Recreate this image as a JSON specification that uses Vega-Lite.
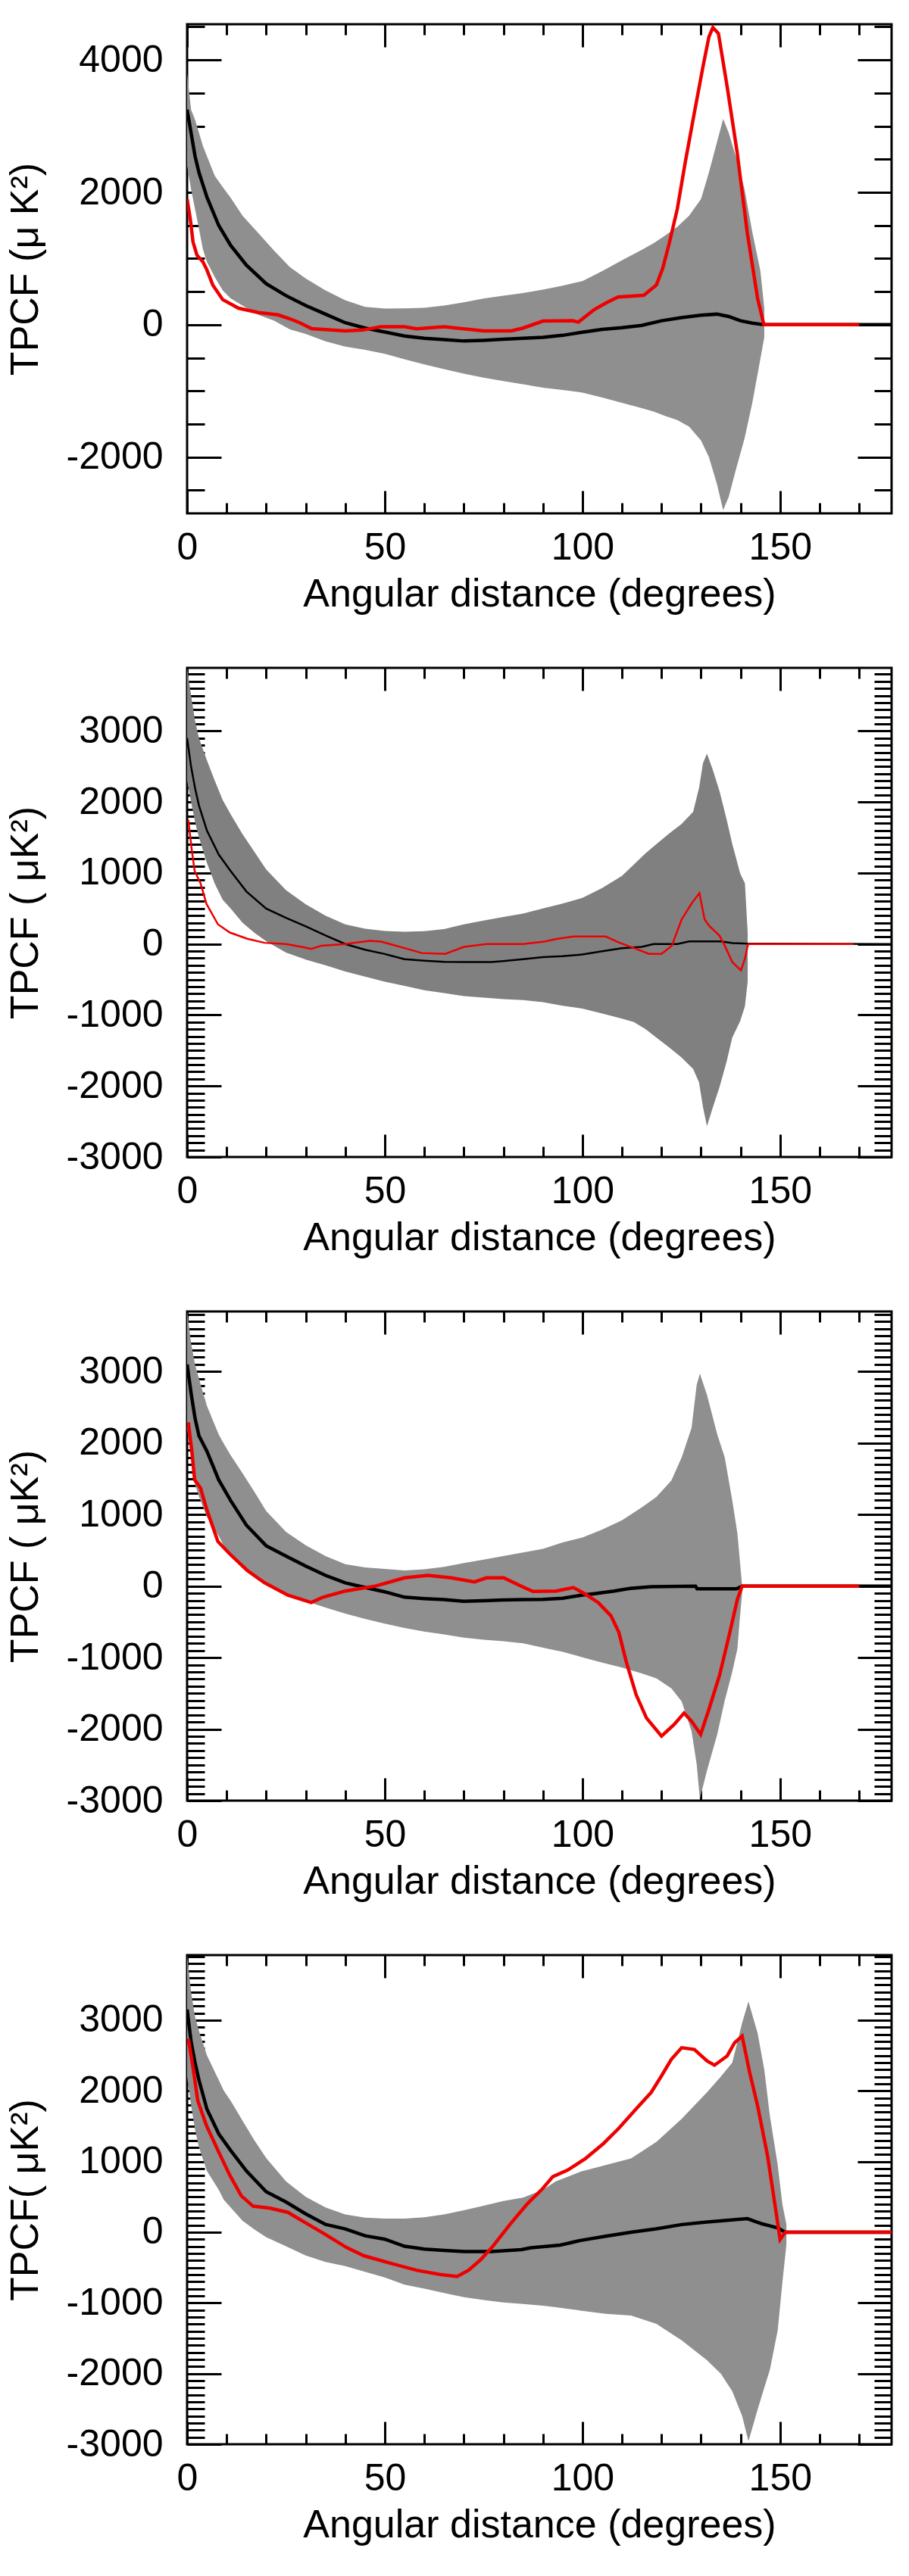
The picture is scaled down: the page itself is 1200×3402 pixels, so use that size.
{
  "$schema": "https://vega.github.io/schema/vega-lite/v6.json",
  "background": "white",
  "padding": {"top": 29, "left": 5, "right": 0, "bottom": 0},
  "spacing": 67,
  "datasets": {
    "b1": [
      {"d": 0, "lo": 2400, "hi": 3800}, {"d": 1, "lo": 2050, "hi": 3250}, {"d": 2, "lo": 1750, "hi": 3100},
      {"d": 3, "lo": 1450, "hi": 2900}, {"d": 4, "lo": 1140, "hi": 2700}, {"d": 5, "lo": 950, "hi": 2550},
      {"d": 7, "lo": 720, "hi": 2250}, {"d": 9, "lo": 520, "hi": 2080}, {"d": 11, "lo": 400, "hi": 1920},
      {"d": 14, "lo": 290, "hi": 1650}, {"d": 18, "lo": 150, "hi": 1385}, {"d": 22, "lo": 60, "hi": 1120},
      {"d": 26, "lo": -70, "hi": 870}, {"d": 30, "lo": -140, "hi": 700}, {"d": 35, "lo": -250, "hi": 520},
      {"d": 40, "lo": -330, "hi": 370}, {"d": 45, "lo": -380, "hi": 270}, {"d": 50, "lo": -440, "hi": 245},
      {"d": 55, "lo": -523, "hi": 246}, {"d": 60, "lo": -600, "hi": 255}, {"d": 65, "lo": -670, "hi": 290},
      {"d": 70, "lo": -738, "hi": 338}, {"d": 75, "lo": -800, "hi": 395}, {"d": 80, "lo": -850, "hi": 440},
      {"d": 85, "lo": -900, "hi": 480}, {"d": 90, "lo": -950, "hi": 530}, {"d": 95, "lo": -985, "hi": 590},
      {"d": 100, "lo": -1025, "hi": 660}, {"d": 105, "lo": -1100, "hi": 810}, {"d": 110, "lo": -1180, "hi": 975},
      {"d": 115, "lo": -1260, "hi": 1130}, {"d": 118, "lo": -1310, "hi": 1230}, {"d": 121, "lo": -1380, "hi": 1350},
      {"d": 124, "lo": -1440, "hi": 1480}, {"d": 127, "lo": -1540, "hi": 1650}, {"d": 130, "lo": -1750, "hi": 1900},
      {"d": 132, "lo": -2000, "hi": 2300}, {"d": 134, "lo": -2400, "hi": 2750}, {"d": 135.6, "lo": -2800, "hi": 3110},
      {"d": 137, "lo": -2600, "hi": 2900}, {"d": 139, "lo": -2150, "hi": 2500}, {"d": 141, "lo": -1720, "hi": 2050},
      {"d": 143, "lo": -1170, "hi": 1390}, {"d": 145, "lo": -520, "hi": 820}, {"d": 146, "lo": -190, "hi": 250}
    ],
    "m1": [
      {"d": 0, "v": 3250}, {"d": 1, "v": 2900}, {"d": 2, "v": 2550}, {"d": 3, "v": 2300}, {"d": 5, "v": 1930},
      {"d": 8, "v": 1500}, {"d": 11, "v": 1200}, {"d": 15, "v": 900}, {"d": 20, "v": 620}, {"d": 25, "v": 440},
      {"d": 30, "v": 290}, {"d": 35, "v": 160}, {"d": 40, "v": 30}, {"d": 45, "v": -50}, {"d": 50, "v": -110},
      {"d": 55, "v": -170}, {"d": 60, "v": -205}, {"d": 65, "v": -225}, {"d": 70, "v": -246}, {"d": 75, "v": -235},
      {"d": 80, "v": -220}, {"d": 85, "v": -205}, {"d": 90, "v": -190}, {"d": 95, "v": -160}, {"d": 100, "v": -113},
      {"d": 105, "v": -70}, {"d": 110, "v": -45}, {"d": 115, "v": -10}, {"d": 120, "v": 60}, {"d": 125, "v": 108},
      {"d": 130, "v": 145}, {"d": 134, "v": 160}, {"d": 137, "v": 125}, {"d": 140, "v": 60}, {"d": 143, "v": 25},
      {"d": 146, "v": 0}, {"d": 178.2, "v": 0}
    ],
    "r1": [
      {"d": 0, "v": 1900}, {"d": 0.8, "v": 1600}, {"d": 1.5, "v": 1250}, {"d": 2.5, "v": 1050}, {"d": 4, "v": 950},
      {"d": 5, "v": 830}, {"d": 6.5, "v": 600}, {"d": 9, "v": 380}, {"d": 13, "v": 250}, {"d": 18, "v": 185},
      {"d": 23, "v": 150}, {"d": 26, "v": 90}, {"d": 28.5, "v": 30}, {"d": 31.5, "v": -60}, {"d": 40, "v": -92},
      {"d": 44.5, "v": -80}, {"d": 49, "v": -30}, {"d": 55, "v": -30}, {"d": 58, "v": -62}, {"d": 65, "v": -30},
      {"d": 70, "v": -62}, {"d": 75, "v": -92}, {"d": 82, "v": -92}, {"d": 85, "v": -50}, {"d": 90, "v": 55},
      {"d": 97.5, "v": 60}, {"d": 99, "v": 40}, {"d": 103, "v": 230}, {"d": 106, "v": 330}, {"d": 109, "v": 420},
      {"d": 115.5, "v": 445}, {"d": 118.7, "v": 600}, {"d": 120.3, "v": 850}, {"d": 122, "v": 1240}, {"d": 124, "v": 1750},
      {"d": 126, "v": 2450}, {"d": 128.3, "v": 3200}, {"d": 130.5, "v": 3900}, {"d": 132, "v": 4350}, {"d": 133, "v": 4490},
      {"d": 134.4, "v": 4400}, {"d": 136.6, "v": 3600}, {"d": 139.1, "v": 2620}, {"d": 141.7, "v": 1390}, {"d": 144.3, "v": 400},
      {"d": 145.9, "v": 0}, {"d": 170, "v": 0}
    ],
    "b2": [
      {"d": 0, "lo": 2300, "hi": 3890}, {"d": 1, "lo": 2000, "hi": 3500}, {"d": 2, "lo": 1722, "hi": 3150},
      {"d": 3, "lo": 1500, "hi": 2900}, {"d": 5, "lo": 1144, "hi": 2589}, {"d": 7, "lo": 850, "hi": 2300},
      {"d": 9, "lo": 624, "hi": 2030}, {"d": 11, "lo": 500, "hi": 1830}, {"d": 14, "lo": 300, "hi": 1550},
      {"d": 17, "lo": 160, "hi": 1300}, {"d": 20, "lo": 40, "hi": 1050}, {"d": 25, "lo": -120, "hi": 760},
      {"d": 30, "lo": -220, "hi": 560}, {"d": 35, "lo": -300, "hi": 400}, {"d": 40, "lo": -387, "hi": 277},
      {"d": 45, "lo": -460, "hi": 215}, {"d": 50, "lo": -530, "hi": 185}, {"d": 55, "lo": -590, "hi": 173},
      {"d": 60, "lo": -650, "hi": 180}, {"d": 65, "lo": -690, "hi": 210}, {"d": 70, "lo": -734, "hi": 277},
      {"d": 75, "lo": -755, "hi": 330}, {"d": 80, "lo": -775, "hi": 380}, {"d": 85, "lo": -790, "hi": 430},
      {"d": 90, "lo": -820, "hi": 500}, {"d": 95, "lo": -870, "hi": 570}, {"d": 100, "lo": -910, "hi": 650},
      {"d": 105, "lo": -980, "hi": 790}, {"d": 110, "lo": -1050, "hi": 960}, {"d": 113, "lo": -1100, "hi": 1120},
      {"d": 116, "lo": -1200, "hi": 1280}, {"d": 119, "lo": -1330, "hi": 1420}, {"d": 122, "lo": -1460, "hi": 1560},
      {"d": 125, "lo": -1595, "hi": 1687}, {"d": 128, "lo": -1760, "hi": 1860}, {"d": 129.5, "lo": -1950, "hi": 2200},
      {"d": 130.5, "lo": -2300, "hi": 2550}, {"d": 131.5, "lo": -2566, "hi": 2681}, {"d": 133, "lo": -2300, "hi": 2450},
      {"d": 134.7, "lo": -2011, "hi": 2150}, {"d": 136.5, "lo": -1650, "hi": 1750}, {"d": 137.9, "lo": -1318, "hi": 1410},
      {"d": 139.9, "lo": -1086, "hi": 994}, {"d": 141.1, "lo": -878, "hi": 855}, {"d": 141.8, "lo": -532, "hi": 162}
    ],
    "m2": [
      {"d": 0, "v": 2900}, {"d": 1, "v": 2500}, {"d": 2, "v": 2200}, {"d": 3, "v": 1950}, {"d": 5, "v": 1600},
      {"d": 8, "v": 1260}, {"d": 11, "v": 1029}, {"d": 15, "v": 740}, {"d": 20, "v": 500}, {"d": 25, "v": 370},
      {"d": 30, "v": 250}, {"d": 35, "v": 120}, {"d": 40, "v": 0}, {"d": 45, "v": -80}, {"d": 50, "v": -140},
      {"d": 55, "v": -214}, {"d": 60, "v": -235}, {"d": 65, "v": -250}, {"d": 70, "v": -254}, {"d": 77, "v": -254},
      {"d": 80, "v": -240}, {"d": 85, "v": -214}, {"d": 90, "v": -185}, {"d": 95, "v": -170}, {"d": 100, "v": -148},
      {"d": 105, "v": -102}, {"d": 110, "v": -60}, {"d": 115, "v": -40}, {"d": 118, "v": 0}, {"d": 124, "v": 0},
      {"d": 127, "v": 37}, {"d": 135, "v": 37}, {"d": 138, "v": 14}, {"d": 142, "v": 5}, {"d": 178.2, "v": 0}
    ],
    "r2": [
      {"d": 0.3, "v": 1751}, {"d": 1.2, "v": 1318}, {"d": 1.9, "v": 1029}, {"d": 3.4, "v": 855}, {"d": 4.9, "v": 566},
      {"d": 7.8, "v": 277}, {"d": 10.8, "v": 162}, {"d": 15.2, "v": 75}, {"d": 19.6, "v": 17}, {"d": 25, "v": 0},
      {"d": 29, "v": -40}, {"d": 31.4, "v": -69}, {"d": 34, "v": -23}, {"d": 40, "v": 0}, {"d": 46.2, "v": 46},
      {"d": 49, "v": 35}, {"d": 55, "v": -58}, {"d": 59.4, "v": -127}, {"d": 65.3, "v": -139}, {"d": 70, "v": -40},
      {"d": 75.7, "v": 0}, {"d": 85, "v": 0}, {"d": 90.4, "v": 35}, {"d": 93.2, "v": 69}, {"d": 97.7, "v": 106},
      {"d": 105.9, "v": 106}, {"d": 109.2, "v": 23}, {"d": 113.6, "v": -69}, {"d": 116.8, "v": -139}, {"d": 120, "v": -139},
      {"d": 122.6, "v": -23}, {"d": 125.1, "v": 347}, {"d": 127.7, "v": 578}, {"d": 129.6, "v": 717}, {"d": 130.9, "v": 347},
      {"d": 132.1, "v": 254}, {"d": 134.7, "v": 116}, {"d": 136, "v": -23}, {"d": 137.9, "v": -254}, {"d": 140.1, "v": -370},
      {"d": 141.1, "v": -208}, {"d": 141.8, "v": -23}, {"d": 142, "v": 0}, {"d": 168.6, "v": 0}
    ],
    "b3": [
      {"d": 0, "lo": 2200, "hi": 3840}, {"d": 1, "lo": 1800, "hi": 3400}, {"d": 2, "lo": 1428, "hi": 3100},
      {"d": 3, "lo": 1250, "hi": 2900}, {"d": 5, "lo": 967, "hi": 2522}, {"d": 8, "lo": 700, "hi": 2119},
      {"d": 9.3, "lo": 564, "hi": 1990}, {"d": 11, "lo": 460, "hi": 1830}, {"d": 14, "lo": 276, "hi": 1580},
      {"d": 17, "lo": 150, "hi": 1320}, {"d": 20, "lo": 40, "hi": 1050}, {"d": 25, "lo": -110, "hi": 760},
      {"d": 30, "lo": -210, "hi": 570}, {"d": 35, "lo": -300, "hi": 420}, {"d": 40, "lo": -386, "hi": 305},
      {"d": 45, "lo": -460, "hi": 260}, {"d": 50, "lo": -525, "hi": 240}, {"d": 55, "lo": -587, "hi": 219},
      {"d": 60, "lo": -635, "hi": 235}, {"d": 65, "lo": -675, "hi": 270}, {"d": 70, "lo": -720, "hi": 322},
      {"d": 75, "lo": -750, "hi": 370}, {"d": 80, "lo": -770, "hi": 420}, {"d": 85, "lo": -800, "hi": 470},
      {"d": 90, "lo": -860, "hi": 520}, {"d": 95, "lo": -920, "hi": 610}, {"d": 100, "lo": -995, "hi": 680},
      {"d": 105, "lo": -1070, "hi": 790}, {"d": 110, "lo": -1140, "hi": 920}, {"d": 115, "lo": -1220, "hi": 1100},
      {"d": 118.7, "lo": -1291, "hi": 1245}, {"d": 122.5, "lo": -1429, "hi": 1475}, {"d": 125.1, "lo": -1613, "hi": 1798},
      {"d": 127.6, "lo": -2028, "hi": 2213}, {"d": 128.9, "lo": -2489, "hi": 2812}, {"d": 129.7, "lo": -2973, "hi": 2973},
      {"d": 131.5, "lo": -2581, "hi": 2674}, {"d": 134.1, "lo": -2074, "hi": 2121}, {"d": 136, "lo": -1600, "hi": 1798},
      {"d": 137.9, "lo": -1199, "hi": 1199}, {"d": 139.2, "lo": -876, "hi": 738}, {"d": 139.8, "lo": -461, "hi": 369},
      {"d": 140.4, "lo": -92, "hi": 0}
    ],
    "m3": [
      {"d": 0, "v": 3100}, {"d": 1, "v": 2700}, {"d": 2, "v": 2349}, {"d": 3, "v": 2100}, {"d": 5, "v": 1888},
      {"d": 8, "v": 1485}, {"d": 11, "v": 1197}, {"d": 15, "v": 852}, {"d": 20, "v": 564}, {"d": 25, "v": 420},
      {"d": 30, "v": 280}, {"d": 35, "v": 150}, {"d": 40, "v": 46}, {"d": 45, "v": -20}, {"d": 50, "v": -80},
      {"d": 55, "v": -155}, {"d": 60, "v": -175}, {"d": 65, "v": -190}, {"d": 70, "v": -213}, {"d": 75, "v": -205},
      {"d": 80, "v": -195}, {"d": 85, "v": -190}, {"d": 90, "v": -185}, {"d": 95, "v": -171}, {"d": 100, "v": -125},
      {"d": 103, "v": -106}, {"d": 108, "v": -69}, {"d": 112, "v": -32}, {"d": 117.4, "v": -9}, {"d": 128.6, "v": 0},
      {"d": 129, "v": -37}, {"d": 139, "v": -37}, {"d": 140.4, "v": 0}, {"d": 178.2, "v": 0}
    ],
    "r3": [
      {"d": 0.3, "v": 2291}, {"d": 1.2, "v": 1888}, {"d": 1.9, "v": 1485}, {"d": 3.4, "v": 1370}, {"d": 4.9, "v": 1082},
      {"d": 7.8, "v": 622}, {"d": 10.8, "v": 449}, {"d": 15.2, "v": 219}, {"d": 19.6, "v": 46}, {"d": 25.5, "v": -127},
      {"d": 31.4, "v": -230}, {"d": 34.4, "v": -155}, {"d": 40, "v": -69}, {"d": 47.6, "v": 0}, {"d": 55, "v": 115},
      {"d": 60.9, "v": 150}, {"d": 66.8, "v": 115}, {"d": 72.7, "v": 58}, {"d": 75.7, "v": 115}, {"d": 80.1, "v": 115},
      {"d": 84.5, "v": 0}, {"d": 87.5, "v": -75}, {"d": 93.4, "v": -70}, {"d": 97.7, "v": -20}, {"d": 100.8, "v": -115},
      {"d": 104, "v": -230}, {"d": 107.2, "v": -415}, {"d": 109.2, "v": -645}, {"d": 111.1, "v": -1060}, {"d": 113.6, "v": -1521},
      {"d": 116.2, "v": -1844}, {"d": 120, "v": -2098}, {"d": 123.2, "v": -1936}, {"d": 125.7, "v": -1775}, {"d": 127.6, "v": -1890},
      {"d": 129.9, "v": -2074}, {"d": 132.1, "v": -1706}, {"d": 134.7, "v": -1245}, {"d": 137.3, "v": -645}, {"d": 139.2, "v": -184},
      {"d": 140.4, "v": 0}, {"d": 170, "v": 0}
    ],
    "b4": [
      {"d": 0, "lo": 2200, "hi": 3920}, {"d": 1, "lo": 1800, "hi": 3400}, {"d": 2, "lo": 1450, "hi": 3050},
      {"d": 3, "lo": 1200, "hi": 2850}, {"d": 5, "lo": 866, "hi": 2503}, {"d": 8, "lo": 600, "hi": 2152},
      {"d": 9.3, "lo": 456, "hi": 2000}, {"d": 11, "lo": 350, "hi": 1860}, {"d": 14, "lo": 164, "hi": 1580},
      {"d": 17, "lo": 40, "hi": 1300}, {"d": 20, "lo": -70, "hi": 1050}, {"d": 25, "lo": -200, "hi": 720},
      {"d": 30, "lo": -330, "hi": 500}, {"d": 35, "lo": -420, "hi": 350}, {"d": 40, "lo": -480, "hi": 251},
      {"d": 45, "lo": -560, "hi": 205}, {"d": 50, "lo": -640, "hi": 193}, {"d": 55, "lo": -743, "hi": 193},
      {"d": 60, "lo": -800, "hi": 210}, {"d": 65, "lo": -860, "hi": 250}, {"d": 70, "lo": -918, "hi": 310},
      {"d": 75, "lo": -960, "hi": 375}, {"d": 80, "lo": -995, "hi": 440}, {"d": 85, "lo": -1015, "hi": 490},
      {"d": 90, "lo": -1040, "hi": 600}, {"d": 93.2, "lo": -1062, "hi": 716}, {"d": 99.5, "lo": -1108, "hi": 856},
      {"d": 105.9, "lo": -1155, "hi": 949}, {"d": 112.3, "lo": -1179, "hi": 1043}, {"d": 118.7, "lo": -1296, "hi": 1277},
      {"d": 125.1, "lo": -1529, "hi": 1604}, {"d": 131.5, "lo": -1810, "hi": 1978}, {"d": 135, "lo": -2000, "hi": 2200},
      {"d": 137.9, "lo": -2250, "hi": 2399}, {"d": 140.4, "lo": -2600, "hi": 2961}, {"d": 142, "lo": -2956, "hi": 3265},
      {"d": 144.3, "lo": -2512, "hi": 2820}, {"d": 146, "lo": -2200, "hi": 2300}, {"d": 147.4, "lo": -1950, "hi": 1651},
      {"d": 149.4, "lo": -1389, "hi": 949}, {"d": 150.6, "lo": -700, "hi": 388}, {"d": 151.6, "lo": -173, "hi": 108}
    ],
    "m4": [
      {"d": 0, "v": 3150}, {"d": 1, "v": 2700}, {"d": 2, "v": 2400}, {"d": 3, "v": 2152}, {"d": 5, "v": 1743},
      {"d": 8, "v": 1392}, {"d": 11, "v": 1158}, {"d": 15, "v": 866}, {"d": 20, "v": 573}, {"d": 25, "v": 427},
      {"d": 30, "v": 260}, {"d": 35, "v": 110}, {"d": 40, "v": 47}, {"d": 45, "v": -50}, {"d": 50, "v": -99},
      {"d": 55, "v": -199}, {"d": 60, "v": -240}, {"d": 65, "v": -257}, {"d": 70, "v": -275}, {"d": 77, "v": -275},
      {"d": 84.5, "v": -246}, {"d": 87, "v": -220}, {"d": 94.4, "v": -182}, {"d": 99.5, "v": -117}, {"d": 105.9, "v": -56},
      {"d": 112.3, "v": 0}, {"d": 118.7, "v": 47}, {"d": 125.1, "v": 108}, {"d": 131.5, "v": 145}, {"d": 141.7, "v": 192},
      {"d": 145.5, "v": 117}, {"d": 149.4, "v": 61}, {"d": 151.3, "v": 0}, {"d": 178.2, "v": 0}
    ],
    "r4": [
      {"d": 0.3, "v": 2737}, {"d": 1.5, "v": 2328}, {"d": 2.7, "v": 1860}, {"d": 4.9, "v": 1509}, {"d": 7.8, "v": 1158},
      {"d": 10.8, "v": 807}, {"d": 13.7, "v": 515}, {"d": 16.7, "v": 368}, {"d": 21, "v": 339}, {"d": 25.5, "v": 281},
      {"d": 29.9, "v": 135}, {"d": 34.4, "v": -12}, {"d": 40.3, "v": -216}, {"d": 44.7, "v": -333}, {"d": 52.1, "v": -450},
      {"d": 58, "v": -538}, {"d": 63.9, "v": -597}, {"d": 68.3, "v": -626}, {"d": 71.2, "v": -538}, {"d": 74.2, "v": -392},
      {"d": 77.1, "v": -216}, {"d": 81.6, "v": 105}, {"d": 86, "v": 398}, {"d": 90, "v": 620}, {"d": 92.5, "v": 786},
      {"d": 96.3, "v": 879}, {"d": 100.8, "v": 1043}, {"d": 105.3, "v": 1253}, {"d": 109.1, "v": 1464}, {"d": 113.6, "v": 1745},
      {"d": 117.4, "v": 1978}, {"d": 120, "v": 2212}, {"d": 122.5, "v": 2446}, {"d": 125.1, "v": 2610}, {"d": 128.3, "v": 2586},
      {"d": 131.5, "v": 2423}, {"d": 133.4, "v": 2362}, {"d": 136.6, "v": 2493}, {"d": 138.5, "v": 2680}, {"d": 140.4, "v": 2773},
      {"d": 142.3, "v": 2259}, {"d": 144.3, "v": 1791}, {"d": 146.8, "v": 1090}, {"d": 148.7, "v": 388}, {"d": 150, "v": -103},
      {"d": 151.3, "v": 0}, {"d": 178.2, "v": 0}
    ]
  },
  "vconcat": [
    {
      "width": 930, "height": 646,
      "layer": [
        {
          "data": {"name": "b1"},
          "mark": {"type": "area", "color": "#8f8f8f", "clip": true},
          "encoding": {
            "x": {"field": "d", "type": "quantitative", "scale": {"domain": [0, 178.2], "nice": false, "zero": false},
              "axis": {"orient": "bottom", "values": [0, 10, 20, 30, 40, 50, 60, 70, 80, 90, 100, 110, 120, 130, 140, 150, 160, 170],
                "labelExpr": "datum.value % 50 === 0 ? '' + datum.value : ''",
                "labelFontSize": {"condition": {"test": "datum.value % 50 === 0", "value": 50}, "value": 0},
                "tickSize": {"condition": {"test": "datum.value % 50 === 0", "value": -30}, "value": -14},
                "title": "Angular distance (degrees)"}},
            "y": {"field": "lo", "type": "quantitative", "scale": {"domain": [-2850, 4540], "nice": false, "zero": false},
              "axis": {"orient": "left", "values": [-2500, -2000, -1500, -1000, -500, 0, 500, 1000, 1500, 2000, 2500, 3000, 3500, 4000, 4500],
                "labelExpr": "datum.value % 2000 === 0 ? '' + datum.value : ''",
                "labelFontSize": {"condition": {"test": "datum.value % 2000 === 0", "value": 50}, "value": 0},
                "tickSize": {"condition": {"test": "datum.value % 2000 === 0", "value": -45}, "value": -23},
                "title": "TPCF (μ K²)"}},
            "y2": {"field": "hi"}
          }
        },
        {
          "data": {"name": "m1"},
          "mark": {"type": "line", "color": "black", "strokeWidth": 4.5, "clip": true},
          "encoding": {
            "x": {"field": "d", "type": "quantitative", "scale": {"domain": [0, 178.2], "nice": false, "zero": false},
              "axis": {"orient": "top", "labels": false, "title": null, "values": [0, 10, 20, 30, 40, 50, 60, 70, 80, 90, 100, 110, 120, 130, 140, 150, 160, 170],
                "tickSize": {"condition": {"test": "datum.value % 50 === 0", "value": -30}, "value": -14}}},
            "y": {"field": "v", "type": "quantitative", "scale": {"domain": [-2850, 4540], "nice": false, "zero": false},
              "axis": {"orient": "right", "labels": false, "title": null, "values": [-2500, -2000, -1500, -1000, -500, 0, 500, 1000, 1500, 2000, 2500, 3000, 3500, 4000, 4500],
                "tickSize": {"condition": {"test": "datum.value % 2000 === 0", "value": -45}, "value": -23}}}
          }
        },
        {
          "data": {"name": "r1"},
          "mark": {"type": "line", "color": "#ee0000", "strokeWidth": 4.5, "clip": true},
          "encoding": {
            "x": {"field": "d", "type": "quantitative", "scale": {"domain": [0, 178.2], "nice": false, "zero": false}, "axis": null},
            "y": {"field": "v", "type": "quantitative", "scale": {"domain": [-2850, 4540], "nice": false, "zero": false}, "axis": null}
          }
        }
      ],
      "resolve": {"axis": {"x": "independent", "y": "independent"}}
    },
    {
      "width": 930, "height": 646,
      "layer": [
        {
          "data": {"name": "b2"},
          "mark": {"type": "area", "color": "#808080", "clip": true},
          "encoding": {
            "x": {"field": "d", "type": "quantitative", "scale": {"domain": [0, 178.2], "nice": false, "zero": false},
              "axis": {"orient": "bottom", "values": [0, 10, 20, 30, 40, 50, 60, 70, 80, 90, 100, 110, 120, 130, 140, 150, 160, 170],
                "labelExpr": "datum.value % 50 === 0 ? '' + datum.value : ''",
                "labelFontSize": {"condition": {"test": "datum.value % 50 === 0", "value": 50}, "value": 0},
                "tickSize": {"condition": {"test": "datum.value % 50 === 0", "value": -30}, "value": -14},
                "title": "Angular distance (degrees)"}},
            "y": {"field": "lo", "type": "quantitative", "scale": {"domain": [-3000, 3890], "nice": false, "zero": false},
              "axis": {"orient": "left", "values": [-3000, -2900, -2800, -2700, -2600, -2500, -2400, -2300, -2200, -2100, -2000, -1900, -1800, -1700, -1600, -1500, -1400, -1300, -1200, -1100, -1000, -900, -800, -700, -600, -500, -400, -300, -200, -100, 0, 100, 200, 300, 400, 500, 600, 700, 800, 900, 1000, 1100, 1200, 1300, 1400, 1500, 1600, 1700, 1800, 1900, 2000, 2100, 2200, 2300, 2400, 2500, 2600, 2700, 2800, 2900, 3000, 3100, 3200, 3300, 3400, 3500, 3600, 3700, 3800],
                "labelExpr": "datum.value % 1000 === 0 ? '' + datum.value : ''",
                "labelFontSize": {"condition": {"test": "datum.value % 1000 === 0", "value": 50}, "value": 0},
                "tickSize": {"condition": {"test": "datum.value % 1000 === 0", "value": -45}, "value": -23},
                "title": "TPCF ( μK²)"}},
            "y2": {"field": "hi"}
          }
        },
        {
          "data": {"name": "m2"},
          "mark": {"type": "line", "color": "black", "strokeWidth": 2.5, "clip": true},
          "encoding": {
            "x": {"field": "d", "type": "quantitative", "scale": {"domain": [0, 178.2], "nice": false, "zero": false},
              "axis": {"orient": "top", "labels": false, "title": null, "values": [0, 10, 20, 30, 40, 50, 60, 70, 80, 90, 100, 110, 120, 130, 140, 150, 160, 170],
                "tickSize": {"condition": {"test": "datum.value % 50 === 0", "value": -30}, "value": -14}}},
            "y": {"field": "v", "type": "quantitative", "scale": {"domain": [-3000, 3890], "nice": false, "zero": false},
              "axis": {"orient": "right", "labels": false, "title": null, "values": [-3000, -2900, -2800, -2700, -2600, -2500, -2400, -2300, -2200, -2100, -2000, -1900, -1800, -1700, -1600, -1500, -1400, -1300, -1200, -1100, -1000, -900, -800, -700, -600, -500, -400, -300, -200, -100, 0, 100, 200, 300, 400, 500, 600, 700, 800, 900, 1000, 1100, 1200, 1300, 1400, 1500, 1600, 1700, 1800, 1900, 2000, 2100, 2200, 2300, 2400, 2500, 2600, 2700, 2800, 2900, 3000, 3100, 3200, 3300, 3400, 3500, 3600, 3700, 3800],
                "tickSize": {"condition": {"test": "datum.value % 1000 === 0", "value": -45}, "value": -23}}}
          }
        },
        {
          "data": {"name": "r2"},
          "mark": {"type": "line", "color": "#ee0000", "strokeWidth": 2.5, "clip": true},
          "encoding": {
            "x": {"field": "d", "type": "quantitative", "scale": {"domain": [0, 178.2], "nice": false, "zero": false}, "axis": null},
            "y": {"field": "v", "type": "quantitative", "scale": {"domain": [-3000, 3890], "nice": false, "zero": false}, "axis": null}
          }
        }
      ],
      "resolve": {"axis": {"x": "independent", "y": "independent"}}
    },
    {
      "width": 930, "height": 646,
      "layer": [
        {
          "data": {"name": "b3"},
          "mark": {"type": "area", "color": "#8f8f8f", "clip": true},
          "encoding": {
            "x": {"field": "d", "type": "quantitative", "scale": {"domain": [0, 178.2], "nice": false, "zero": false},
              "axis": {"orient": "bottom", "values": [0, 10, 20, 30, 40, 50, 60, 70, 80, 90, 100, 110, 120, 130, 140, 150, 160, 170],
                "labelExpr": "datum.value % 50 === 0 ? '' + datum.value : ''",
                "labelFontSize": {"condition": {"test": "datum.value % 50 === 0", "value": 50}, "value": 0},
                "tickSize": {"condition": {"test": "datum.value % 50 === 0", "value": -30}, "value": -14},
                "title": "Angular distance (degrees)"}},
            "y": {"field": "lo", "type": "quantitative", "scale": {"domain": [-3000, 3840], "nice": false, "zero": false},
              "axis": {"orient": "left", "values": [-3000, -2900, -2800, -2700, -2600, -2500, -2400, -2300, -2200, -2100, -2000, -1900, -1800, -1700, -1600, -1500, -1400, -1300, -1200, -1100, -1000, -900, -800, -700, -600, -500, -400, -300, -200, -100, 0, 100, 200, 300, 400, 500, 600, 700, 800, 900, 1000, 1100, 1200, 1300, 1400, 1500, 1600, 1700, 1800, 1900, 2000, 2100, 2200, 2300, 2400, 2500, 2600, 2700, 2800, 2900, 3000, 3100, 3200, 3300, 3400, 3500, 3600, 3700, 3800],
                "labelExpr": "datum.value % 1000 === 0 ? '' + datum.value : ''",
                "labelFontSize": {"condition": {"test": "datum.value % 1000 === 0", "value": 50}, "value": 0},
                "tickSize": {"condition": {"test": "datum.value % 1000 === 0", "value": -45}, "value": -23},
                "title": "TPCF ( μK²)"}},
            "y2": {"field": "hi"}
          }
        },
        {
          "data": {"name": "m3"},
          "mark": {"type": "line", "color": "black", "strokeWidth": 4.5, "clip": true},
          "encoding": {
            "x": {"field": "d", "type": "quantitative", "scale": {"domain": [0, 178.2], "nice": false, "zero": false},
              "axis": {"orient": "top", "labels": false, "title": null, "values": [0, 10, 20, 30, 40, 50, 60, 70, 80, 90, 100, 110, 120, 130, 140, 150, 160, 170],
                "tickSize": {"condition": {"test": "datum.value % 50 === 0", "value": -30}, "value": -14}}},
            "y": {"field": "v", "type": "quantitative", "scale": {"domain": [-3000, 3840], "nice": false, "zero": false},
              "axis": {"orient": "right", "labels": false, "title": null, "values": [-3000, -2900, -2800, -2700, -2600, -2500, -2400, -2300, -2200, -2100, -2000, -1900, -1800, -1700, -1600, -1500, -1400, -1300, -1200, -1100, -1000, -900, -800, -700, -600, -500, -400, -300, -200, -100, 0, 100, 200, 300, 400, 500, 600, 700, 800, 900, 1000, 1100, 1200, 1300, 1400, 1500, 1600, 1700, 1800, 1900, 2000, 2100, 2200, 2300, 2400, 2500, 2600, 2700, 2800, 2900, 3000, 3100, 3200, 3300, 3400, 3500, 3600, 3700, 3800],
                "tickSize": {"condition": {"test": "datum.value % 1000 === 0", "value": -45}, "value": -23}}}
          }
        },
        {
          "data": {"name": "r3"},
          "mark": {"type": "line", "color": "#ee0000", "strokeWidth": 4.5, "clip": true},
          "encoding": {
            "x": {"field": "d", "type": "quantitative", "scale": {"domain": [0, 178.2], "nice": false, "zero": false}, "axis": null},
            "y": {"field": "v", "type": "quantitative", "scale": {"domain": [-3000, 3840], "nice": false, "zero": false}, "axis": null}
          }
        }
      ],
      "resolve": {"axis": {"x": "independent", "y": "independent"}}
    },
    {
      "width": 930, "height": 646,
      "layer": [
        {
          "data": {"name": "b4"},
          "mark": {"type": "area", "color": "#8f8f8f", "clip": true},
          "encoding": {
            "x": {"field": "d", "type": "quantitative", "scale": {"domain": [0, 178.2], "nice": false, "zero": false},
              "axis": {"orient": "bottom", "values": [0, 10, 20, 30, 40, 50, 60, 70, 80, 90, 100, 110, 120, 130, 140, 150, 160, 170],
                "labelExpr": "datum.value % 50 === 0 ? '' + datum.value : ''",
                "labelFontSize": {"condition": {"test": "datum.value % 50 === 0", "value": 50}, "value": 0},
                "tickSize": {"condition": {"test": "datum.value % 50 === 0", "value": -30}, "value": -14},
                "title": "Angular distance (degrees)"}},
            "y": {"field": "lo", "type": "quantitative", "scale": {"domain": [-3000, 3920], "nice": false, "zero": false},
              "axis": {"orient": "left", "values": [-3000, -2900, -2800, -2700, -2600, -2500, -2400, -2300, -2200, -2100, -2000, -1900, -1800, -1700, -1600, -1500, -1400, -1300, -1200, -1100, -1000, -900, -800, -700, -600, -500, -400, -300, -200, -100, 0, 100, 200, 300, 400, 500, 600, 700, 800, 900, 1000, 1100, 1200, 1300, 1400, 1500, 1600, 1700, 1800, 1900, 2000, 2100, 2200, 2300, 2400, 2500, 2600, 2700, 2800, 2900, 3000, 3100, 3200, 3300, 3400, 3500, 3600, 3700, 3800, 3900],
                "labelExpr": "datum.value % 1000 === 0 ? '' + datum.value : ''",
                "labelFontSize": {"condition": {"test": "datum.value % 1000 === 0", "value": 50}, "value": 0},
                "tickSize": {"condition": {"test": "datum.value % 1000 === 0", "value": -45}, "value": -23},
                "title": "TPCF( μK²)"}},
            "y2": {"field": "hi"}
          }
        },
        {
          "data": {"name": "m4"},
          "mark": {"type": "line", "color": "black", "strokeWidth": 4.5, "clip": true},
          "encoding": {
            "x": {"field": "d", "type": "quantitative", "scale": {"domain": [0, 178.2], "nice": false, "zero": false},
              "axis": {"orient": "top", "labels": false, "title": null, "values": [0, 10, 20, 30, 40, 50, 60, 70, 80, 90, 100, 110, 120, 130, 140, 150, 160, 170],
                "tickSize": {"condition": {"test": "datum.value % 50 === 0", "value": -30}, "value": -14}}},
            "y": {"field": "v", "type": "quantitative", "scale": {"domain": [-3000, 3920], "nice": false, "zero": false},
              "axis": {"orient": "right", "labels": false, "title": null, "values": [-3000, -2900, -2800, -2700, -2600, -2500, -2400, -2300, -2200, -2100, -2000, -1900, -1800, -1700, -1600, -1500, -1400, -1300, -1200, -1100, -1000, -900, -800, -700, -600, -500, -400, -300, -200, -100, 0, 100, 200, 300, 400, 500, 600, 700, 800, 900, 1000, 1100, 1200, 1300, 1400, 1500, 1600, 1700, 1800, 1900, 2000, 2100, 2200, 2300, 2400, 2500, 2600, 2700, 2800, 2900, 3000, 3100, 3200, 3300, 3400, 3500, 3600, 3700, 3800, 3900],
                "tickSize": {"condition": {"test": "datum.value % 1000 === 0", "value": -45}, "value": -23}}}
          }
        },
        {
          "data": {"name": "r4"},
          "mark": {"type": "line", "color": "#ee0000", "strokeWidth": 4.5, "clip": true},
          "encoding": {
            "x": {"field": "d", "type": "quantitative", "scale": {"domain": [0, 178.2], "nice": false, "zero": false}, "axis": null},
            "y": {"field": "v", "type": "quantitative", "scale": {"domain": [-3000, 3920], "nice": false, "zero": false}, "axis": null}
          }
        }
      ],
      "resolve": {"axis": {"x": "independent", "y": "independent"}}
    }
  ],
  "config": {
    "view": {"stroke": "black", "strokeWidth": 3},
    "font": "Liberation Sans",
    "axis": {
      "grid": false,
      "domain": false,
      "tickColor": "black",
      "tickWidth": 3,
      "labelFont": "Liberation Sans",
      "labelFontSize": 50,
      "labelColor": "black",
      "labelFlush": false,
      "labelOverlap": false,
      "labelBound": false,
      "titleFont": "Liberation Sans",
      "titleFontSize": 52,
      "titleFontWeight": "normal",
      "titleColor": "black"
    },
    "axisBottom": {
      "labelBaseline": "alphabetic",
      "labelPadding": 90,
      "titleBaseline": "alphabetic",
      "titleY": 122
    },
    "axisLeft": {
      "labelPadding": 77,
      "titlePadding": 27
    }
  }
}
